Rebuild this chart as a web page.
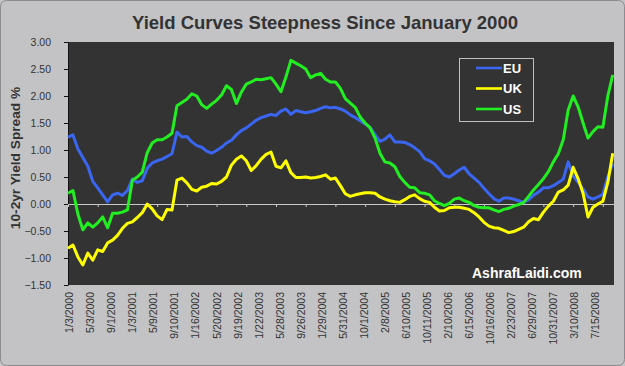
<!DOCTYPE html>
<html>
<head>
<meta charset="utf-8">
<script src="https://cdn.jsdelivr.net/npm/d3@7"></script>
<style>
  body { margin: 0; background: #c3c3c6; }
  text { font-family: Arial, "Liberation Sans", sans-serif; }
</style>
</head>
<body>
<div id="chart"></div>
<script>
// Category labels shown under the plot (one every 85 trading days)
var tickDates = ["1/3/2000", "5/3/2000", "9/1/2000", "1/3/2001", "5/9/2001",
  "9/10/2001", "1/16/2002", "5/20/2002", "9/19/2002", "1/22/2003", "5/28/2003",
  "9/26/2003", "1/29/2004", "5/31/2004", "10/1/2004", "2/8/2005", "6/10/2005",
  "10/11/2005", "2/10/2006", "6/15/2006", "10/16/2006", "2/23/2007", "6/29/2007",
  "10/31/2007", "3/10/2008", "7/15/2008"];

var labelStep = 85;    // trading days between date labels
var tickStep = 120;    // trading days between tick marks
var sampleStep = 20;   // trading days between the values below
var dayCount = 2205;   // trading days on the category axis

var yTicks = [-1.5, -1, -0.5, 0, 0.5, 1, 1.5, 2, 2.5, 3];

var seriesNames = ["EU", "UK", "US"];

// 10yr - 2yr spread, one value every 20 trading days
var euSpread = [1.24, 1.28, 1.02, 0.86, 0.70, 0.42, 0.30, 0.17, 0.04, 0.17,
  0.20, 0.16, 0.25, 0.46, 0.40, 0.43, 0.66, 0.76, 0.80, 0.83,
  0.88, 0.93, 1.33, 1.24, 1.25, 1.15, 1.08, 1.05, 0.98, 0.94,
  0.99, 1.05, 1.13, 1.18, 1.28, 1.36, 1.41, 1.48, 1.55, 1.60,
  1.63, 1.66, 1.64, 1.72, 1.76, 1.66, 1.73, 1.71, 1.69, 1.71,
  1.73, 1.77, 1.80, 1.78, 1.79, 1.76, 1.72, 1.65, 1.60, 1.54,
  1.48, 1.42, 1.28, 1.16, 1.20, 1.28, 1.15, 1.15, 1.14, 1.10,
  1.04, 0.97, 0.84, 0.80, 0.74, 0.64, 0.53, 0.50, 0.56, 0.63,
  0.68, 0.56, 0.48, 0.40, 0.29, 0.19, 0.10, 0.05, 0.11, 0.11,
  0.09, 0.06, 0.03, 0.08, 0.16, 0.22, 0.30, 0.30, 0.34, 0.40,
  0.46, 0.78, 0.52, 0.40, 0.28, 0.13, 0.09, 0.13, 0.18, 0.50, 0.75];

var ukSpread = [-0.82, -0.76, -0.98, -1.13, -0.91, -1.04, -0.85, -0.88, -0.72, -0.67,
  -0.58, -0.45, -0.36, -0.33, -0.25, -0.16, 0.00, -0.09, -0.22, -0.29,
  -0.10, -0.11, 0.44, 0.48, 0.39, 0.27, 0.24, 0.31, 0.33, 0.38,
  0.37, 0.42, 0.50, 0.72, 0.83, 0.89, 0.80, 0.62, 0.71, 0.83,
  0.92, 0.96, 0.70, 0.67, 0.80, 0.58, 0.49, 0.49, 0.50, 0.48,
  0.49, 0.51, 0.54, 0.46, 0.48, 0.34, 0.19, 0.14, 0.17, 0.19,
  0.21, 0.21, 0.20, 0.13, 0.09, 0.06, 0.04, 0.03, 0.08, 0.14,
  0.17, 0.10, 0.05, 0.03, -0.06, -0.13, -0.12, -0.07, -0.06, -0.06,
  -0.08, -0.10, -0.16, -0.24, -0.34, -0.41, -0.44, -0.45, -0.49, -0.53,
  -0.51, -0.47, -0.43, -0.33, -0.27, -0.29, -0.15, -0.04, 0.05, 0.22,
  0.26, 0.35, 0.68, 0.47, 0.20, -0.24, -0.06, 0.00, 0.05, 0.40, 0.94];

var usSpread = [0.20, 0.25, -0.19, -0.48, -0.35, -0.43, -0.35, -0.24, -0.44, -0.17,
  -0.17, -0.15, -0.11, 0.44, 0.50, 0.59, 0.95, 1.13, 1.19, 1.19,
  1.24, 1.31, 1.82, 1.88, 1.94, 2.04, 2.00, 1.84, 1.77, 1.85,
  1.92, 2.02, 2.19, 2.12, 1.86, 2.07, 2.22, 2.26, 2.31, 2.30,
  2.32, 2.34, 2.22, 2.08, 2.35, 2.66, 2.61, 2.56, 2.50, 2.34,
  2.39, 2.42, 2.31, 2.26, 2.26, 2.14, 1.95, 1.87, 1.79, 1.61,
  1.50, 1.41, 1.22, 0.94, 0.78, 0.76, 0.69, 0.51, 0.40, 0.31,
  0.30, 0.21, 0.20, 0.17, 0.06, 0.01, -0.03, 0.01, 0.09, 0.11,
  0.06, 0.03, -0.03, -0.06, -0.07, -0.07, -0.11, -0.14, -0.10, -0.08,
  -0.04, -0.01, 0.03, 0.14, 0.26, 0.36, 0.47, 0.60, 0.78, 0.93,
  1.19, 1.74, 2.00, 1.80, 1.50, 1.22, 1.34, 1.43, 1.42, 2.00, 2.39];

// Setting width and height
var width = 625;
var height = 366;

// Plot area edges
var plotLeft = 68;
var plotRight = 614;
var plotTop = 42;
var plotBottom = 285;

var colors = { EU: "#3a66f2", UK: "#ffff00", US: "#22ee22" };

var svg = d3
  .select("#chart")
  .append("svg")
  .attr("width", width)
  .attr("height", height);

// Chart background with a soft border
svg
  .append("rect")
  .attr("x", 0.5)
  .attr("y", 0.5)
  .attr("width", width - 1)
  .attr("height", height - 1)
  .attr("rx", 6)
  .attr("fill", "#c3c3c6")
  .attr("stroke", "#8c8c90");

// Plot area
svg
  .append("rect")
  .attr("x", plotLeft)
  .attr("y", plotTop)
  .attr("width", plotRight - plotLeft)
  .attr("height", plotBottom - plotTop)
  .attr("fill", "#333333");

// Scales
var xScale = d3
  .scaleLinear()
  .domain([0, dayCount])
  .range([plotLeft, plotRight]);
var yScale = d3
  .scaleLinear()
  .domain([-1.5, 3])
  .range([plotBottom, plotTop]);

// Title
svg
  .append("text")
  .attr("x", 325)
  .attr("y", 29)
  .attr("text-anchor", "middle")
  .attr("font-size", "18.5px")
  .attr("font-weight", "bold")
  .attr("fill", "#333")
  .text("Yield Curves Steepness Since January 2000");

// Y axis
var yAxis = d3
  .axisLeft(yScale)
  .tickValues(yTicks)
  .tickFormat(d3.format(".2f"))
  .tickSize(4)
  .tickSizeOuter(0)
  .tickPadding(13);

var yAxisG = svg
  .append("g")
  .attr("transform", "translate(" + plotLeft + ",0)")
  .call(yAxis);
yAxisG.select(".domain").attr("stroke", "#111");
yAxisG.selectAll(".tick line").attr("stroke", "#111");
yAxisG.selectAll("text")
  .attr("font-size", "10.5px")
  .attr("fill", "#333");

// Y axis title
svg
  .append("text")
  .attr("transform", "translate(15," + 158 + ")rotate(-90)")
  .attr("text-anchor", "middle")
  .attr("dy", "0.35em")
  .attr("font-size", "13.7px")
  .attr("font-weight", "bold")
  .attr("fill", "#333")
  .text("10-2yr Yield Spread %");

// Zero line with its tick marks
var zeroAxis = d3
  .axisBottom(xScale)
  .tickValues(d3.range(0, dayCount, tickStep))
  .tickFormat("")
  .tickSize(3)
  .tickSizeOuter(0);

var zeroG = svg
  .append("g")
  .attr("transform", "translate(0," + yScale(0) + ")")
  .call(zeroAxis);
zeroG.selectAll("path, line").attr("stroke", "#c8c8c8");

// Date labels below the plot
var labelAxis = d3
  .axisBottom(xScale)
  .tickValues(tickDates.map(function(d, i) { return i * labelStep; }))
  .tickFormat(function(d, i) { return tickDates[i]; })
  .tickSize(0);

var labelG = svg
  .append("g")
  .attr("transform", "translate(1," + plotBottom + ")")
  .call(labelAxis);
labelG.select(".domain").remove();
labelG.selectAll("text")
  .attr("transform", "rotate(-90)")
  .attr("text-anchor", "end")
  .attr("x", -7)
  .attr("y", 0)
  .attr("dy", "0.35em")
  .attr("font-size", "10.5px")
  .attr("fill", "#333");

// Lines
var seriesData = { EU: euSpread, UK: ukSpread, US: usSpread };

var line = d3
  .line()
  .x(function(d, i) { return xScale(i * sampleStep); })
  .y(function(d) { return yScale(d); });

seriesNames.forEach(function(name) {
  svg
    .append("path")
    .datum(seriesData[name])
    .attr("fill", "none")
    .attr("stroke", colors[name])
    .attr("stroke-width", 3)
    .attr("stroke-linejoin", "round")
    .attr("d", line);
});

// Legend
var legend = svg.append("g").attr("transform", "translate(459,58)");

legend
  .append("rect")
  .attr("x", 0.5)
  .attr("y", 0.5)
  .attr("width", 74)
  .attr("height", 63)
  .attr("fill", "#333333")
  .attr("stroke", "#c0c0c0");

seriesNames.forEach(function(name, i) {
  var rowY = 10 + i * 20.5;
  legend
    .append("line")
    .attr("x1", 17)
    .attr("x2", 43)
    .attr("y1", rowY)
    .attr("y2", rowY)
    .attr("stroke", colors[name])
    .attr("stroke-width", 2.6);
  legend
    .append("text")
    .attr("x", 44)
    .attr("y", rowY)
    .attr("dy", "0.36em")
    .attr("font-size", "13px")
    .attr("font-weight", "bold")
    .attr("fill", "#fff")
    .text(name);
});

// Watermark
svg
  .append("text")
  .attr("x", 472)
  .attr("y", 278)
  .attr("font-size", "14px")
  .attr("font-weight", "bold")
  .attr("fill", "#fff")
  .text("AshrafLaidi.com");
</script>
</body>
</html>
